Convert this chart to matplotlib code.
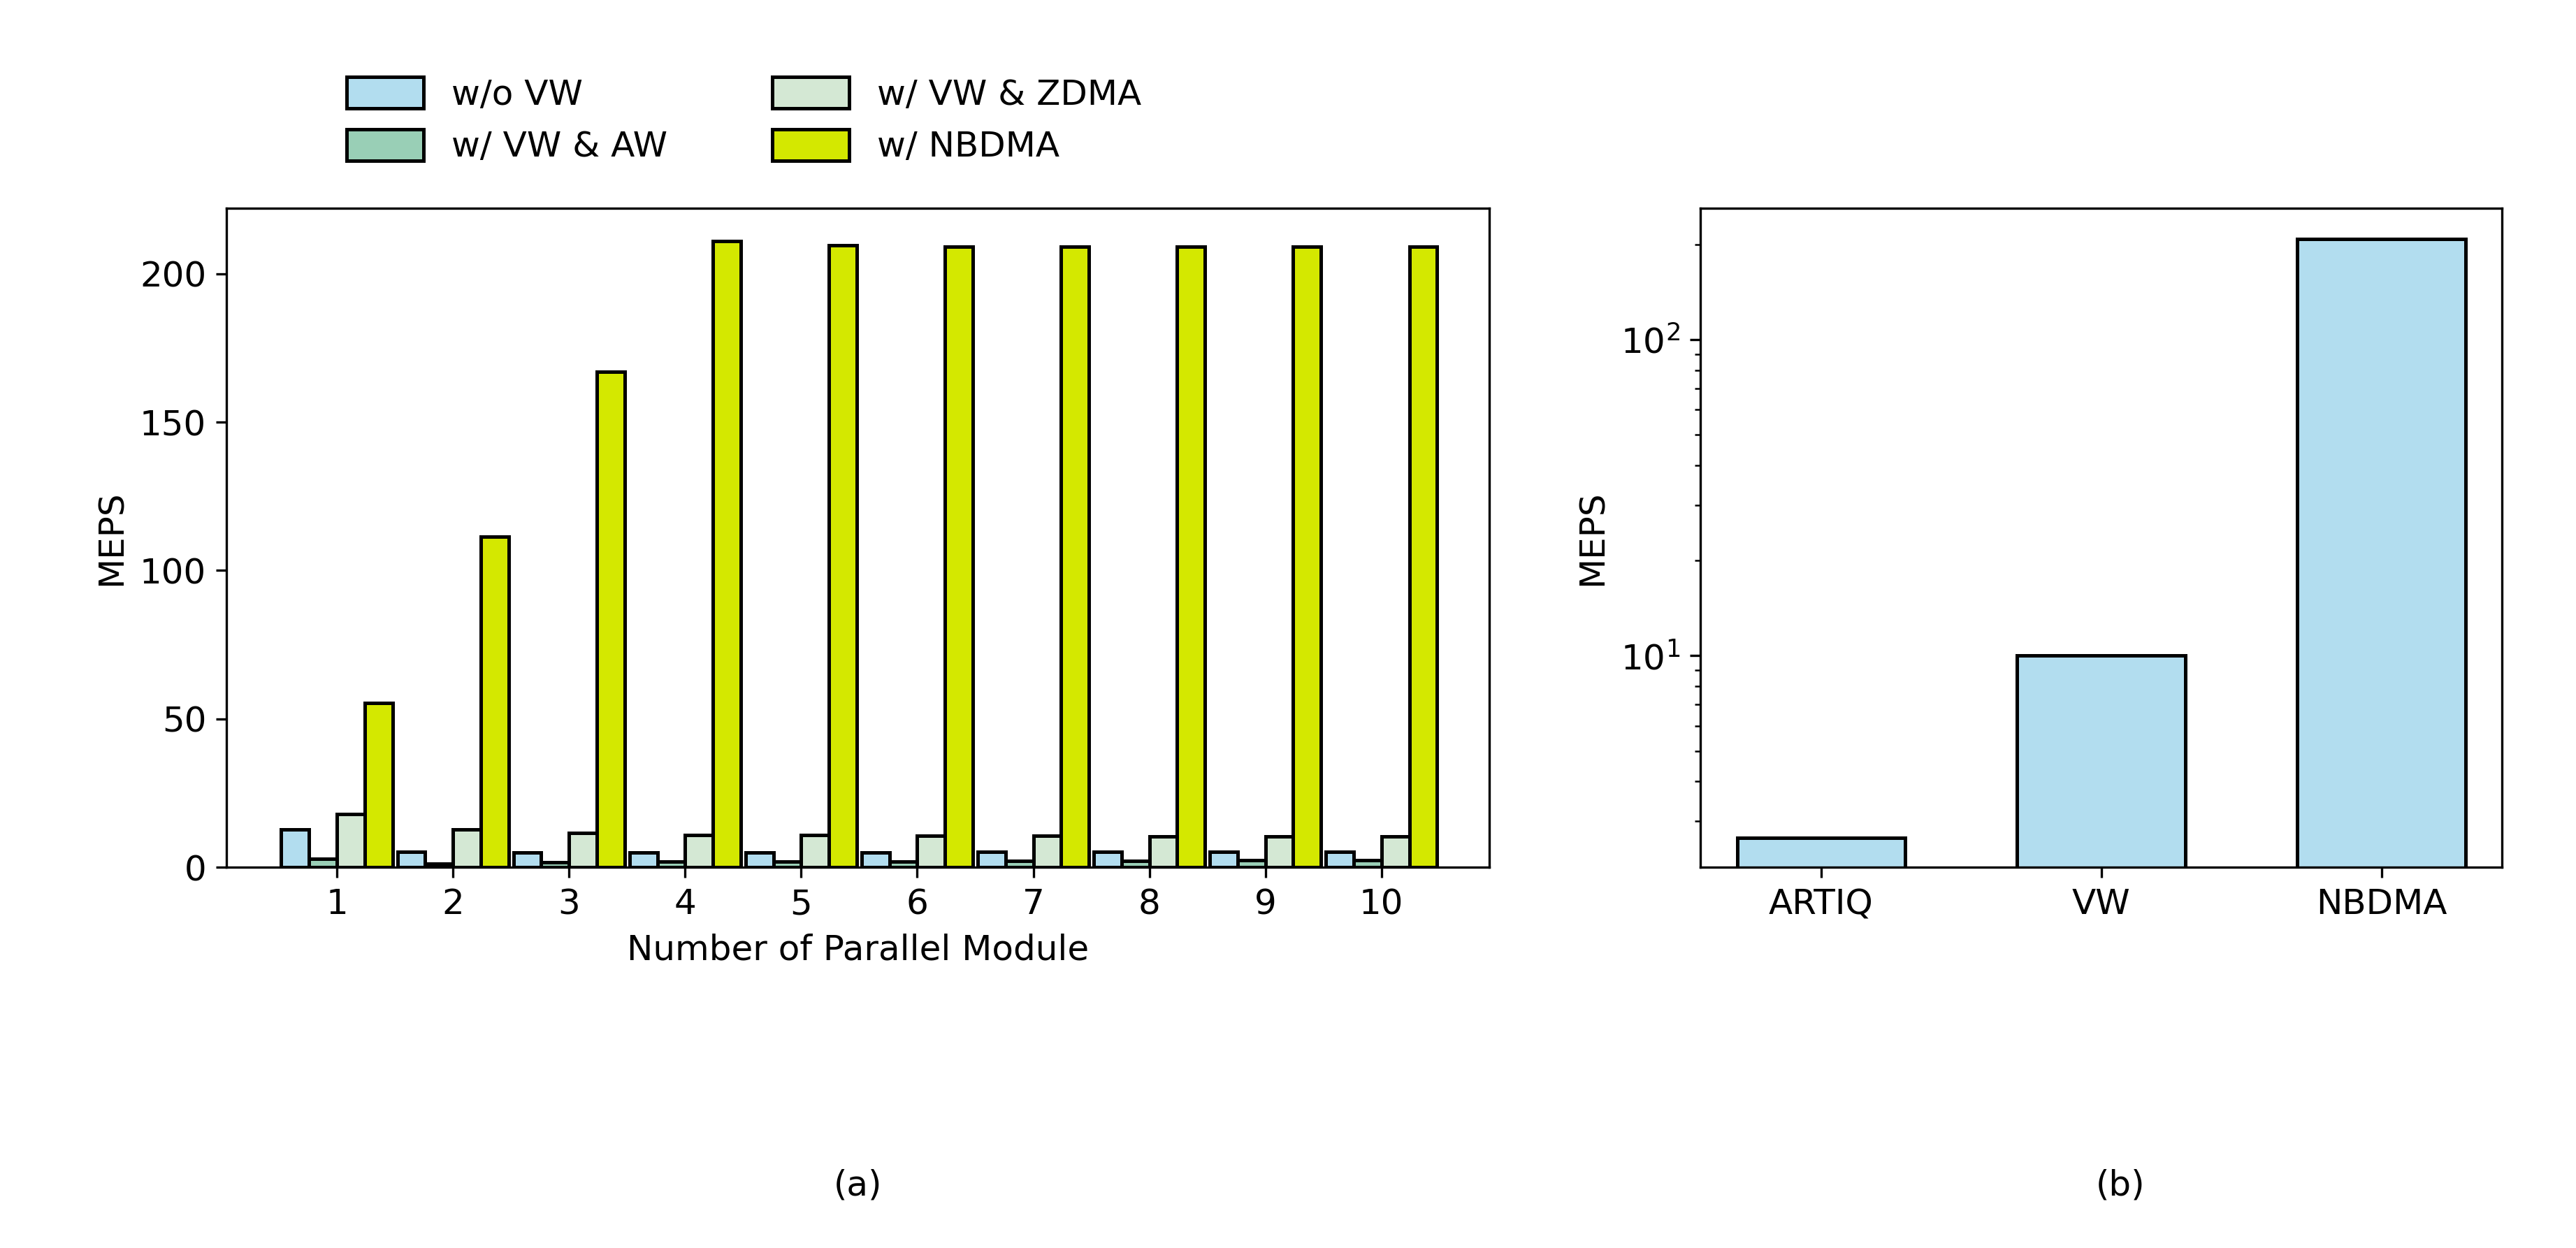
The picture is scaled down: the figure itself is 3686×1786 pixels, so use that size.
import matplotlib
matplotlib.use("Agg")
import matplotlib.pyplot as plt
import numpy as np

modules = [1,2,3,4,5,6,7,8,9,10]
wo_vw = [12.8,5.3,5.0,5.0,5.0,5.0,5.3,5.3,5.3,5.3]
vw_aw = [2.9,1.3,1.8,2.0,2.0,2.0,2.2,2.2,2.4,2.4]
vw_zdma = [18,12.8,11.7,10.9,10.9,10.6,10.6,10.4,10.4,10.4]
nbdma = [55.5,111.5,167,211,209.5,209,209,209,209,209]
series = [("w/o VW", wo_vw, "#b2ddef"), ("w/ VW & AW", vw_aw, "#99cfb6"),
          ("w/ VW & ZDMA", vw_zdma, "#d4e8d4"), ("w/ NBDMA", nbdma, "#d4e800")]
cats_b = ["ARTIQ", "VW", "NBDMA"]
vals_b = [2.66, 10.0, 208]

plt.rcParams['font.size'] = 12
fig = plt.figure(figsize=(3687/300, 1786/300), dpi=300)
ax1 = fig.add_axes([0.088, 0.305, 0.490, 0.528])
ax2 = fig.add_axes([0.660, 0.305, 0.311, 0.528])

x = np.array(modules)
w = 0.24
for i, (lab, v, c) in enumerate(series):
    ax1.bar(x + (i - 1.5) * w, v, w, color=c, edgecolor='black', linewidth=1.2, label=lab)
ax1.set_xticks(x)
ax1.set_yticks([0, 50, 100, 150, 200])
ax1.set_xlim(0.05, 10.93)
ax1.set_ylim(0, 222)
ax1.set_ylabel("MEPS")
ax1.set_xlabel("Number of Parallel Module")
ax1.legend(ncol=2, frameon=False, loc='lower left', bbox_to_anchor=(0.07, 1.02),
           columnspacing=3.0, handlelength=2.2, handleheight=1.0)

xb = np.arange(len(cats_b))
ax2.bar(xb, vals_b, 0.6, color="#b2ddef", edgecolor='black', linewidth=1.2)
ax2.set_yscale('log')
ax2.set_ylim(2.14, 260)
ax2.set_xlim(-0.43, 2.43)
ax2.set_xticks(xb)
ax2.set_xticklabels(cats_b)
ax2.set_ylabel("MEPS")

fig.text(0.333, 0.05, "(a)", ha='center', va='center')
fig.text(0.823, 0.05, "(b)", ha='center', va='center')
fig.savefig("out.png", dpi=300)
